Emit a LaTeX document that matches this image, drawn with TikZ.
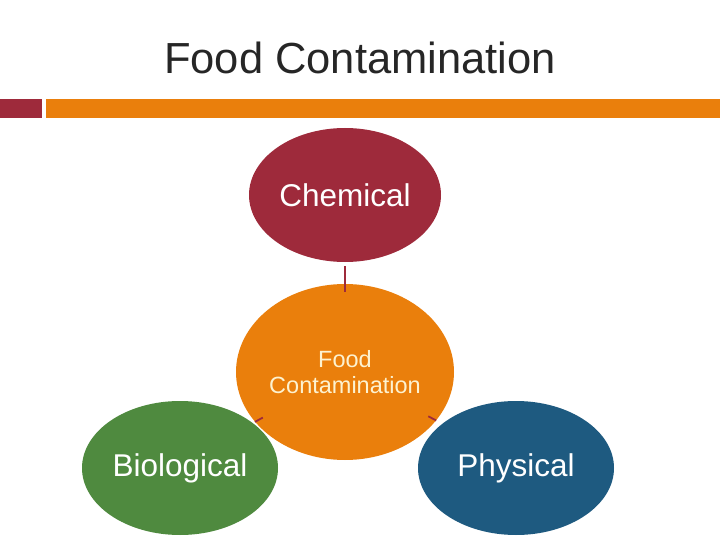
\documentclass[tikz,border=0pt]{standalone}
\usepackage{fontspec}
\setmainfont{Liberation Sans}
\usetikzlibrary{shapes.geometric,calc}
\definecolor{chemred}{HTML}{9E2A3B}
\definecolor{foodorange}{HTML}{EA7F0C}
\definecolor{bioGreen}{HTML}{4F8A3F}
\definecolor{physblue}{HTML}{1E5A80}
\definecolor{cream}{HTML}{FDF2D0}
\definecolor{titlegray}{HTML}{262626}

\begin{document}
\begin{tikzpicture}[x=1pt,y=-1pt,
topic/.style ={ellipse, inner sep=0pt, minimum width=196pt, minimum height=134pt,
 text=white, font=\fontsize{31.5}{34}\selectfont},
hub/.style ={ellipse, fill=foodorange, inner sep=0pt, minimum width=218pt,
 minimum height=176pt, text=cream, align=center, font=\fontsize{23.5}{26}\selectfont},
conn/.style ={draw=chemred, line width=1.8pt}]
\useasboundingbox (0,0) rectangle (720,540);

% title and bar
\node[anchor=base, text=titlegray, font=\fontsize{43.5}{46}\selectfont] (title) at (360,74) {Food Contamination};
\fill[chemred] (0,99) rectangle (42,118);
\fill[foodorange] (46,99) rectangle (720,118);

\node[topic, fill=chemred, minimum width=192pt] (chem) at (345,195) {Chemical};
\node[topic, fill=bioGreen] (bio) at (180,468) {Biological};
\node[topic, fill=physblue] (phys) at (516,468) {Physical};
\node[hub] (food) at (345,372) {Food\\Contamination};

\draw[conn] ([yshift=-4pt]chem.south) -- ([yshift=-8pt]food.north);
\draw[conn] (food.209.7) -- ($(food.209.7)!9pt!(food)$);
\draw[conn] (food.-28.8) -- ($(food.-28.8)!9pt!(food)$);
\end{tikzpicture}
\end{document}
